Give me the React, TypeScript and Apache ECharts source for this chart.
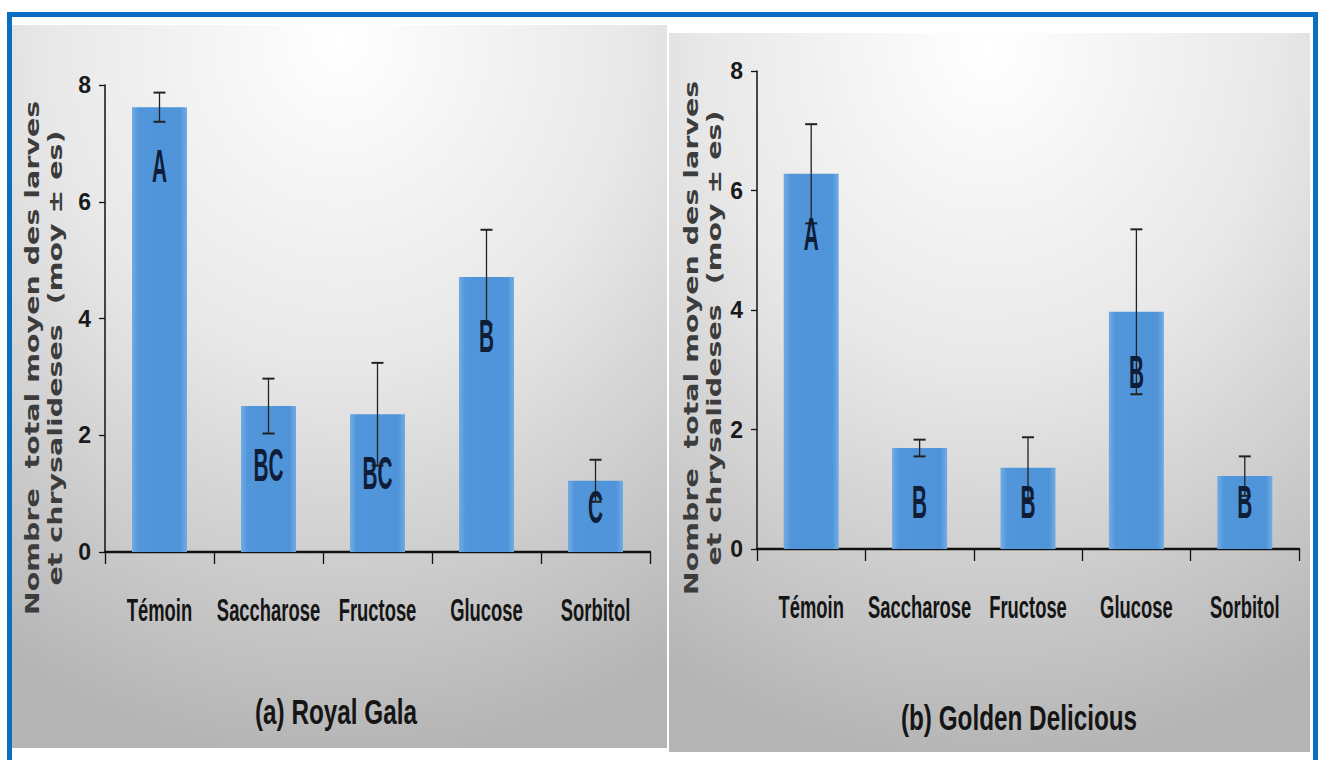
import React, { useEffect, useRef } from "react";
import * as echarts from "echarts";

const categories = ["Témoin", "Saccharose", "Fructose", "Glucose", "Sorbitol"];

const galaMeans = [7.62, 2.5, 2.36, 4.71, 1.22];
const galaSE = [0.25, 0.47, 0.88, 0.81, 0.36];
const galaLetters = ["A", "BC", "BC", "B", "C"];

const goldenMeans = [6.28, 1.69, 1.36, 3.97, 1.22];
const goldenSE = [0.83, 0.14, 0.51, 1.38, 0.33];
const goldenLetters = ["A", "B", "B", "B", "B"];

const yMin = 0;
const yMax = 8;
const yStep = 2;

const panelTitles = ["(a) Royal Gala", "(b) Golden Delicious"];
const yAxisTitleLines = ["Nombre  total moyen des larves", "et chrysalideses  (moy ± es)"];

const SANS = "'Liberation Sans', Arial, sans-serif";
const WIDE = "'DejaVu Sans', Verdana, sans-serif";

const panels = [
  { means: galaMeans, se: galaSE, letters: galaLetters },
  { means: goldenMeans, se: goldenSE, letters: goldenLetters },
];

const grids = [
  { left: 105, top: 85, width: 545, height: 467 },
  { left: 757, top: 71, width: 542, height: 478 },
];

function barColor() {
  return new echarts.graphic.LinearGradient(0, 0, 1, 0, [
    { offset: 0, color: "#72ace3" },
    { offset: 0.12, color: "#5196da" },
    { offset: 0.88, color: "#4f94d9" },
    { offset: 1, color: "#72ace3" },
  ]);
}

function panelBg() {
  return new echarts.graphic.RadialGradient(0.5, 0.02, 1.0, [
    { offset: 0, color: "#ffffff" },
    { offset: 0.45, color: "#e8e8e8" },
    { offset: 1, color: "#b4b4b4" },
  ]);
}

export default function App() {
  const ref = useRef<HTMLDivElement>(null);

  useEffect(() => {
    if (!ref.current) return;
    const chart = echarts.init(ref.current, null, { renderer: "svg" });

    const xAxes: any[] = [];
    const yAxes: any[] = [];
    const series: any[] = [];

    panels.forEach((p, pi) => {
      xAxes.push({
        type: "category",
        gridIndex: pi,
        data: categories,
        boundaryGap: true,
        axisLine: { show: true, lineStyle: { color: "#111", width: 2.4 } },
        axisTick: { show: true, alignWithLabel: false, length: 12, lineStyle: { color: "#111", width: 1.3 } },
        axisLabel: { show: false },
        splitLine: { show: false },
      });
      yAxes.push({
        type: "value",
        gridIndex: pi,
        min: yMin,
        max: yMax,
        interval: yStep,
        axisLine: { show: true, lineStyle: { color: "#111", width: 1.5 } },
        axisTick: { show: true, length: 6, lineStyle: { color: "#111", width: 1.3 } },
        axisLabel: { color: "#1a1a1a", fontSize: 23, fontWeight: "bold", fontFamily: SANS, margin: 14 },
        splitLine: { show: false },
      });

      series.push({
        type: "bar",
        xAxisIndex: pi,
        yAxisIndex: pi,
        data: p.means,
        barWidth: 55,
        itemStyle: { color: barColor() },
        z: 2,
      });

      // error bars
      series.push({
        type: "custom",
        xAxisIndex: pi,
        yAxisIndex: pi,
        data: p.means.map((m, i) => [i, m - p.se[i], m + p.se[i]]),
        encode: { x: 0, y: [1, 2] },
        z: 3,
        renderItem: (params: any, api: any) => {
          const x = api.value(0);
          const top = api.coord([x, api.value(2)]);
          const bot = api.coord([x, api.value(1)]);
          const hw = 6;
          const st = { stroke: "#222", lineWidth: 1.3 };
          return {
            type: "group",
            children: [
              { type: "line", shape: { x1: top[0], y1: top[1], x2: bot[0], y2: bot[1] }, style: st },
              { type: "line", shape: { x1: top[0] - hw, y1: top[1], x2: top[0] + hw, y2: top[1] }, style: { ...st, lineWidth: 2 } },
              { type: "line", shape: { x1: bot[0] - hw, y1: bot[1], x2: bot[0] + hw, y2: bot[1] }, style: { ...st, lineWidth: 2 } },
            ],
          };
        },
      });

      // significance letters
      series.push({
        type: "custom",
        xAxisIndex: pi,
        yAxisIndex: pi,
        data: p.means.map((m, i) => [i, m]),
        encode: { x: 0, y: 1 },
        z: 4,
        renderItem: (params: any, api: any) => {
          const x = api.value(0);
          const v = api.value(1);
          const pt = api.coord([x, Math.max(v - 1.0, 0.78)]);
          return {
            type: "text",
            x: pt[0],
            y: pt[1],
            scaleX: 0.8,
            scaleY: 1.75,
            style: {
              text: p.letters[params.dataIndex],
              fontSize: 26,
              fontWeight: "bold",
              fontFamily: SANS,
              fill: "#0f1d36",
              align: "center",
              verticalAlign: "middle",
            },
          };
        },
      });

      // category labels (condensed look)
      series.push({
        type: "custom",
        xAxisIndex: pi,
        yAxisIndex: pi,
        clip: false,
        silent: true,
        data: categories.map((c, i) => [i, 0]),
        encode: { x: 0, y: 1 },
        z: 4,
        renderItem: (params: any, api: any) => {
          const pt = api.coord([api.value(0), 0]);
          return {
            type: "text",
            x: pt[0],
            y: pt[1] + 58,
            scaleX: 0.8,
            scaleY: 1.35,
            style: {
              text: categories[params.dataIndex],
              fontSize: 23,
              fontWeight: "bold",
              fontFamily: SANS,
              fill: "#151515",
              align: "center",
              verticalAlign: "middle",
            },
          };
        },
      });
    });

    const yTitleStyle = {
      text: yAxisTitleLines.join("\n"),
      fontSize: 19,
      fontWeight: "bold",
      fontFamily: WIDE,
      lineHeight: 23,
      fill: "#3c3c3c",
      align: "center",
      verticalAlign: "middle",
    };
    const titleStyle = {
      fontSize: 27,
      fontWeight: "bold",
      fontFamily: SANS,
      fill: "#151515",
      align: "center",
      verticalAlign: "middle",
    };

    const graphic: any[] = [
      { type: "rect", z: -20, shape: { x: 0, y: 0, width: 1322, height: 760 }, style: { fill: "#ffffff" } },
      { type: "rect", z: -10, shape: { x: 12, y: 25, width: 655, height: 723 }, style: { fill: panelBg() } },
      { type: "rect", z: -10, shape: { x: 669, y: 33, width: 641, height: 719 }, style: { fill: panelBg() } },
      {
        type: "rect",
        z: 50,
        shape: { x: 9.5, y: 14.5, width: 1306, height: 800 },
        style: { fill: "none", stroke: "#0a6fc2", lineWidth: 5 },
      },
      { type: "text", z: 10, x: 44, y: 358, rotation: Math.PI / 2, scaleX: 1.5, style: yTitleStyle },
      { type: "text", z: 10, x: 703, y: 338, rotation: Math.PI / 2, scaleX: 1.5, style: yTitleStyle },
      { type: "text", z: 10, x: 336, y: 712, scaleX: 0.9, scaleY: 1.3, style: { ...titleStyle, text: panelTitles[0] } },
      { type: "text", z: 10, x: 1019, y: 718, scaleX: 0.9, scaleY: 1.3, style: { ...titleStyle, text: panelTitles[1] } },
    ];

    chart.setOption({
      animation: false,
      backgroundColor: "#ffffff",
      grid: grids.map((g) => ({ ...g, containLabel: false })),
      xAxis: xAxes,
      yAxis: yAxes,
      series,
      graphic,
    });

    return () => chart.dispose();
  }, []);

  return <div ref={ref} style={{ position: "fixed", left: 0, top: 0, width: 1322, height: 760 }} />;
}
